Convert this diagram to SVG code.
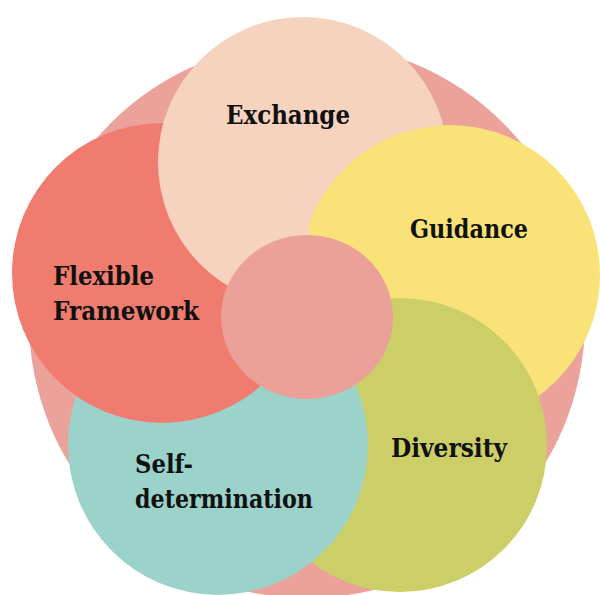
<svg xmlns="http://www.w3.org/2000/svg" width="600" height="595" viewBox="0 0 600 595">
  <style>
    .label { font-family: "DejaVu Serif", "Liberation Serif", serif; font-weight: bold; font-size: 26px; fill: #111; }
  </style>
  <defs>
    <!-- region where the exchange petal is redrawn above the flexible framework petal
         (a little wider than that petal so no edge seam shows) -->
    <clipPath id="exchange-top">
      <circle cx="162" cy="273" r="153"/>
    </clipPath>
  </defs>

  <!-- backdrop disc -->
  <circle id="backdrop" cx="307" cy="320" r="278" fill="#EAA29B"/>

  <!-- petals, drawn so each overlaps the next in a ring -->
  <g id="exchange">
    <circle cx="303" cy="162" r="145" fill="#F6D3BF"/>
  </g>
  <g id="guidance">
    <circle cx="450" cy="275" r="150" fill="#F9E378"/>
  </g>
  <g id="diversity">
    <circle cx="400" cy="445" r="147" fill="#CCCE67"/>
  </g>
  <g id="self-determination">
    <circle cx="218" cy="445" r="150" fill="#9BD2CA"/>
  </g>
  <g id="flexible-framework">
    <circle cx="162" cy="273" r="150" fill="#F07B6F"/>
  </g>
  <!-- exchange petal sits above the flexible framework petal -->
  <g id="exchange-over">
    <circle cx="303" cy="162" r="145" fill="#F6D3BF" clip-path="url(#exchange-top)"/>
  </g>

  <g id="hub">
    <ellipse cx="307" cy="317" rx="86" ry="82" fill="#EBA09A"/>
  </g>

  <g id="labels">
    <text class="label" x="226" y="124" textLength="124" lengthAdjust="spacingAndGlyphs">Exchange</text>
    <text class="label" x="410" y="238" textLength="118" lengthAdjust="spacingAndGlyphs">Guidance</text>
    <text class="label" x="53" y="285" textLength="101" lengthAdjust="spacingAndGlyphs">Flexible</text>
    <text class="label" x="53" y="320" textLength="146" lengthAdjust="spacingAndGlyphs">Framework</text>
    <text class="label" x="135" y="473" textLength="58" lengthAdjust="spacingAndGlyphs">Self-</text>
    <text class="label" x="135" y="508" textLength="178" lengthAdjust="spacingAndGlyphs">determination</text>
    <text class="label" x="391" y="457" textLength="116" lengthAdjust="spacingAndGlyphs">Diversity</text>
  </g>
</svg>
